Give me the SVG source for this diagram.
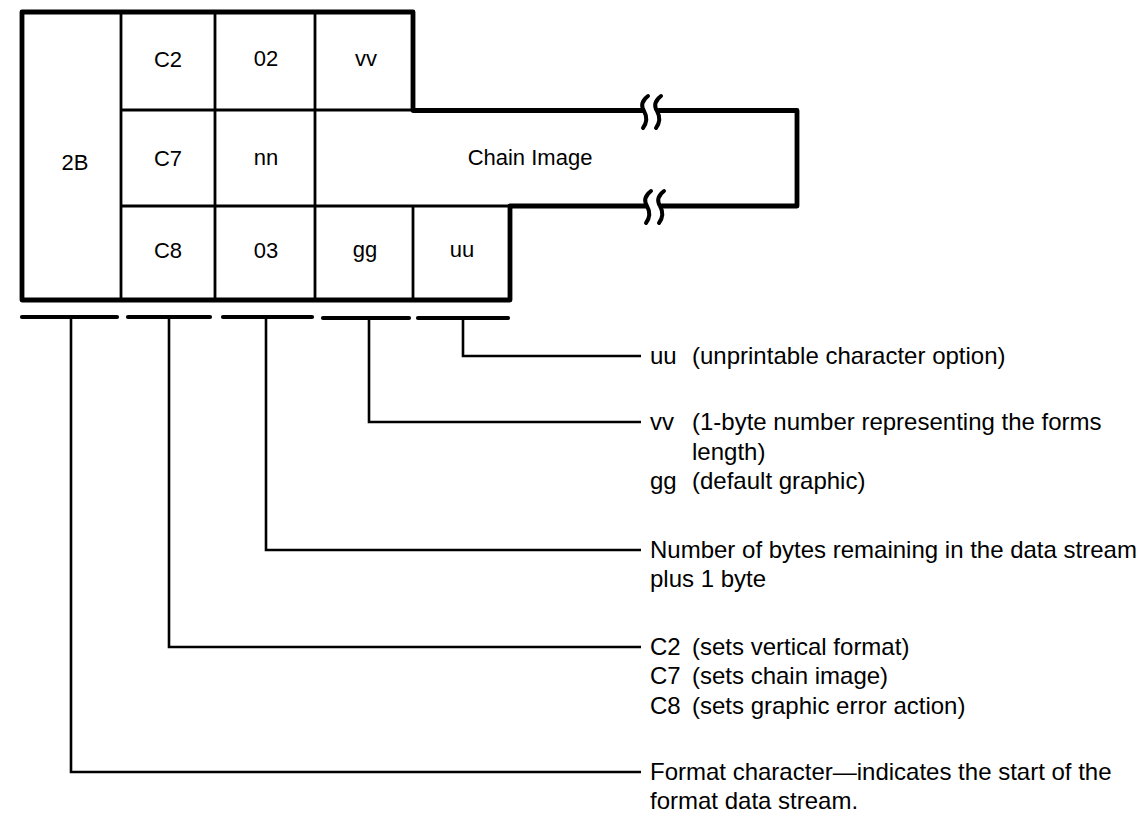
<svg xmlns="http://www.w3.org/2000/svg" width="1147" height="816" viewBox="0 0 1147 816">
<style>
  text { font-family: "Liberation Sans", Arial, sans-serif; font-size: 22px; fill: #000; }
  .lg { font-size: 24px; }
  .c { text-anchor: middle; }
  .thick { fill: none; stroke: #000; stroke-width: 4.8; stroke-linejoin: round; stroke-linecap: round; }
  .thin { fill: none; stroke: #000; stroke-width: 2.8; }
  .brk { fill: none; stroke: #000; stroke-width: 4; stroke-linecap: round; }
  .dash { stroke: #000; stroke-width: 4.2; stroke-linecap: round; }
  .conn { fill: none; stroke: #000; stroke-width: 2.6; stroke-linejoin: miter; }
</style>
<rect width="1147" height="816" fill="#fff"/>

<g id="record">
  <g id="grid">
    <line class="thin" x1="121" y1="12" x2="121" y2="300"/>
    <line class="thin" x1="215" y1="12" x2="215" y2="300"/>
    <line class="thin" x1="315" y1="12" x2="315" y2="300"/>
    <line class="thin" x1="413" y1="206" x2="413" y2="300"/>
    <line class="thin" x1="121" y1="110" x2="413" y2="110"/>
    <line class="thin" x1="121" y1="206" x2="510" y2="206"/>
  </g>
  <g id="outline">
    <path class="thick" d="M643,110.5 L413,110.5 L413,12 L22,12 L22,300 L510,300 L510,206 L646,206"/>
    <path class="thick" d="M659,110.5 L797,110.5 L797,206 L662,206"/>
    <path class="brk" d="M648,96 Q639,103 644,111 Q649,120 643,128"/>
    <path class="brk" d="M661,96 Q652,103 657,111 Q662,120 656,128"/>
    <path class="brk" d="M651,191 Q642,198 647,206 Q652,215 646,223"/>
    <path class="brk" d="M664,191 Q655,198 660,206 Q665,215 659,223"/>
  </g>
  <g id="cell-2B"><text class="c" x="75" y="170">2B</text></g>
  <g id="cell-C2"><text class="c" x="168" y="67">C2</text></g>
  <g id="cell-02"><text class="c" x="266" y="66">02</text></g>
  <g id="cell-vv"><text class="c" x="366" y="66">vv</text></g>
  <g id="cell-C7"><text class="c" x="168" y="166">C7</text></g>
  <g id="cell-nn"><text class="c" x="266" y="165">nn</text></g>
  <g id="cell-chain"><text class="c" x="530" y="165">Chain Image</text></g>
  <g id="cell-C8"><text class="c" x="168" y="258">C8</text></g>
  <g id="cell-03"><text class="c" x="266" y="258">03</text></g>
  <g id="cell-gg"><text class="c" x="365" y="257">gg</text></g>
  <g id="cell-uu"><text class="c" x="462" y="257">uu</text></g>
</g>

<g id="connectors">
  <line class="dash" x1="22" y1="317" x2="117" y2="317"/>
  <line class="dash" x1="128" y1="317" x2="210" y2="317"/>
  <line class="dash" x1="223" y1="317" x2="312" y2="317"/>
  <line class="dash" x1="323" y1="318" x2="409" y2="318"/>
  <line class="dash" x1="418" y1="318" x2="508" y2="318"/>
  <path class="conn" d="M71,317 L71,772 L641,772"/>
  <path class="conn" d="M169,317 L169,647 L641,647"/>
  <path class="conn" d="M266,317 L266,550 L641,550"/>
  <path class="conn" d="M369,318 L369,422 L641,422"/>
  <path class="conn" d="M463,318 L463,356 L641,356"/>
</g>

<g id="label-uu" class="lg">
  <text class="lg" x="650" y="364">uu</text>
  <text class="lg" x="692" y="364">(unprintable character option)</text>
</g>
<g id="label-vv-gg">
  <text class="lg" x="650" y="430">vv</text>
  <text class="lg" x="692" y="430">(1-byte number representing the forms</text>
  <text class="lg" x="692" y="460">length)</text>
  <text class="lg" x="650" y="489">gg</text>
  <text class="lg" x="692" y="489">(default graphic)</text>
</g>
<g id="label-nn">
  <text class="lg" x="650" y="558">Number of bytes remaining in the data stream</text>
  <text class="lg" x="650" y="587">plus 1 byte</text>
</g>
<g id="label-codes">
  <text class="lg" x="650" y="655">C2</text>
  <text class="lg" x="692" y="655">(sets vertical format)</text>
  <text class="lg" x="650" y="684">C7</text>
  <text class="lg" x="692" y="684">(sets chain image)</text>
  <text class="lg" x="650" y="714">C8</text>
  <text class="lg" x="692" y="714">(sets graphic error action)</text>
</g>
<g id="label-2B">
  <text class="lg" x="650" y="780">Format character—indicates the start of the</text>
  <text class="lg" x="650" y="809">format data stream.</text>
</g>
</svg>
